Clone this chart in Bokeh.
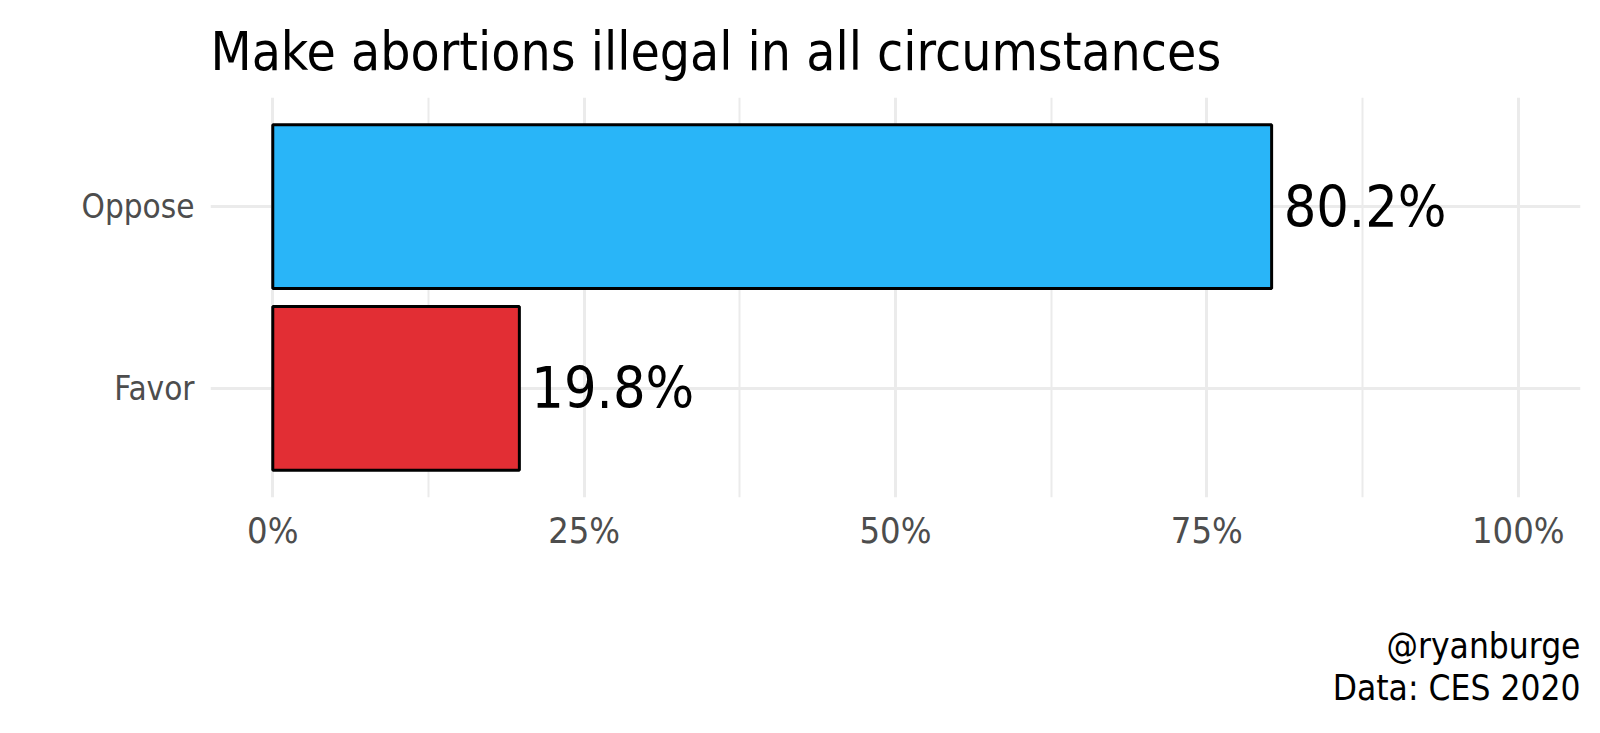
from bokeh.plotting import figure
from bokeh.models import FactorRange, Range1d, FixedTicker, ColumnDataSource, Title, CustomJSTickFormatter
from bokeh.core.properties import value
from bokeh.embed import file_html
from bokeh.resources import INLINE

categories = ["Favor", "Oppose"]
values = [19.8, 80.2]
colors = ["#e22e34", "#29b5f8"]
labels = ["19.8%", "80.2%"]
major_ticks = [0, 25, 50, 75, 100]
minor_ticks = [12.5, 37.5, 62.5, 87.5]
caption_lines = ["@ryanburge", "Data: CES 2020"]

FONT = "DejaVu Sans Condensed, Roboto Condensed, Liberation Sans Narrow, Roboto"

src = ColumnDataSource(dict(cat=categories, val=values, color=colors, lab=labels))

p = figure(frame_width=1370, frame_height=400, output_backend="svg", toolbar_location=None,
           y_range=FactorRange(*categories, range_padding=0.1, range_padding_units="absolute"),
           x_range=Range1d(-5, 105),
           min_border_left=210, min_border_right=4, min_border_top=97, min_border_bottom=220)

p.hbar(y="cat", right="val", left=0, height=0.9, fill_color="color", line_color="black",
       line_width=3, source=src)
p.text(x="val", y="cat", text="lab", source=src, x_offset=12, y_offset=0, text_align="left",
       text_baseline="middle", text_font=value(FONT), text_font_size="57px", text_color="black")

p.title.text = "Make abortions illegal in all circumstances"
p.title.text_font = FONT
p.title.text_font_size = "53px"
p.title.text_font_style = "normal"
p.title.text_color = "black"
p.title.standoff = 32

p.outline_line_color = None
p.background_fill_color = "white"

xa = p.xaxis[0]
xa.ticker = FixedTicker(ticks=major_ticks, minor_ticks=minor_ticks)
xa.formatter = CustomJSTickFormatter(code="return tick + '%';")
xa.axis_line_color = None
xa.major_tick_line_color = None
xa.minor_tick_line_color = None
xa.major_label_text_font = FONT
xa.major_label_text_font_size = "36px"
xa.major_label_text_color = "#4d4d4d"
xa.major_label_standoff = 6

ya = p.yaxis[0]
ya.axis_line_color = None
ya.major_tick_line_color = None
ya.minor_tick_line_color = None
ya.major_label_text_font = FONT
ya.major_label_text_font_size = "33px"
ya.major_label_text_color = "#4d4d4d"
ya.major_label_standoff = 10

p.xgrid.grid_line_color = "#ebebeb"
p.xgrid.grid_line_width = 3
p.xgrid.minor_grid_line_color = "#ebebeb"
p.xgrid.minor_grid_line_width = 2
p.ygrid.grid_line_color = "#ebebeb"
p.ygrid.grid_line_width = 3

# blank spacer between the axis and the caption
p.add_layout(Title(text=" ", text_font=FONT, text_font_size="10px", standoff=57), "below")
for line in caption_lines:
    p.add_layout(Title(text=line, align="right", text_font=FONT, text_font_size="35px",
                       text_font_style="normal", text_color="black", standoff=0), "below")

open("out.html", "w").write(file_html(p, INLINE))
